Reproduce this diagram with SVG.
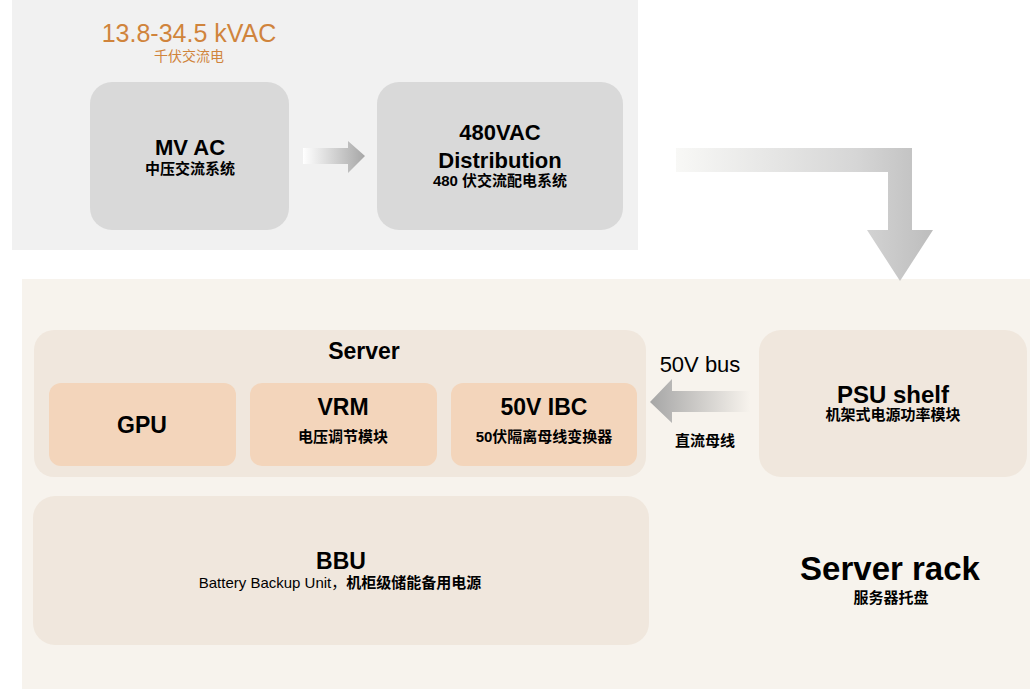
<svg xmlns="http://www.w3.org/2000/svg" width="1030" height="689" viewBox="0 0 1030 689">
<defs>
<style>
text{font-family:"Liberation Sans","Noto Sans CJK SC",sans-serif;text-anchor:middle;fill:#000}
.t{font-size:22px;font-weight:bold}
.t2{font-size:23px;font-weight:bold}
.s{font-size:15px;font-weight:bold}
.r{font-weight:normal}
.or{fill:#d0843c}
.gray{fill:#d9d9d9}
.cont{fill:#f0e7dd}
.peach{fill:#f3d5bb}
</style>
<linearGradient id="gR" x1="0" y1="0" x2="1" y2="0">
<stop offset="0" stop-color="#ffffff"/>
<stop offset="1" stop-color="#a6a6a6"/>
</linearGradient>
<linearGradient id="gBend" gradientUnits="userSpaceOnUse" x1="676" y1="0" x2="933" y2="0">
<stop offset="0" stop-color="#f8f8f6"/>
<stop offset="0.7" stop-color="#d6d6d6"/>
<stop offset="1" stop-color="#bdbdbd"/>
</linearGradient>
<linearGradient id="gL" gradientUnits="userSpaceOnUse" x1="650" y1="0" x2="750" y2="0">
<stop offset="0" stop-color="#a6a6a6"/>
<stop offset="1" stop-color="#f7f3ed"/>
</linearGradient>
</defs>

<rect x="12" y="0" width="626" height="250" fill="#f1f1f1"/>
<rect x="22" y="279" width="1008" height="410" fill="#f7f3ed"/>

<g id="mv-label">
<text x="189" y="42" class="or" style="font-size:25px">13.8-34.5 kVAC</text>
<text x="189" y="61" class="or" style="font-size:14px">千伏交流电</text>
</g>

<g id="mvac">
<rect x="90" y="82" width="199" height="148" rx="22" class="gray"/>
<text x="190" y="155" class="t">MV AC</text>
<text x="190" y="174" class="s">中压交流系统</text>
</g>

<g id="dist480">
<rect x="377" y="82" width="246" height="148" rx="22" class="gray"/>
<text x="500" y="140" class="t">480VAC</text>
<text x="500" y="168" class="t">Distribution</text>
<text x="500" y="186" class="s">480 伏交流配电系统</text>
</g>

<g id="server">
<rect x="34" y="330" width="612" height="147" rx="20" class="cont"/>
<text x="364" y="359" class="t2">Server</text>
</g>
<g id="gpu">
<rect x="49" y="383" width="187" height="83" rx="12" class="peach"/>
<text x="142" y="433" class="t2">GPU</text>
</g>
<g id="vrm">
<rect x="250" y="383" width="187" height="83" rx="12" class="peach"/>
<text x="343" y="415" class="t2">VRM</text>
<text x="343" y="442" class="s">电压调节模块</text>
</g>
<g id="ibc">
<rect x="451" y="383" width="186" height="83" rx="12" class="peach"/>
<text x="544" y="415" class="t2">50V IBC</text>
<text x="544" y="442" class="s">50伏隔离母线变换器</text>
</g>

<g id="psu">
<rect x="759" y="330" width="268" height="147" rx="22" class="cont"/>
<text x="893" y="403" class="t2" style="font-size:24px">PSU shelf</text>
<text x="893" y="420" class="s">机架式电源功率模块</text>
</g>

<g id="bbu">
<rect x="33" y="496" width="616" height="149" rx="22" class="cont"/>
<text x="341" y="569" class="t2">BBU</text>
<text x="340" y="588" class="s"><tspan class="r">Battery Backup Unit，</tspan>机柜级储能备用电源</text>
</g>

<g id="rack">
<text x="890" y="580" style="font-size:33px;font-weight:bold">Server rack</text>
<text x="891" y="603" class="s">服务器托盘</text>
</g>

<g id="connectors">
<polygon points="303,148 348,148 348,141 365,156 348,173 348,164 303,164" fill="url(#gR)"/>
<polygon points="676,148 912,148 912,230 933,230 900,281 867,230 888,230 888,172 676,172" fill="url(#gBend)"/>
<polygon points="750,391 672,391 672,379 650,402 672,423 672,412 750,412" fill="url(#gL)"/>
<text x="700" y="372" style="font-size:22px">50V bus</text>
<text x="705" y="446" class="s">直流母线</text>
</g>
</svg>
